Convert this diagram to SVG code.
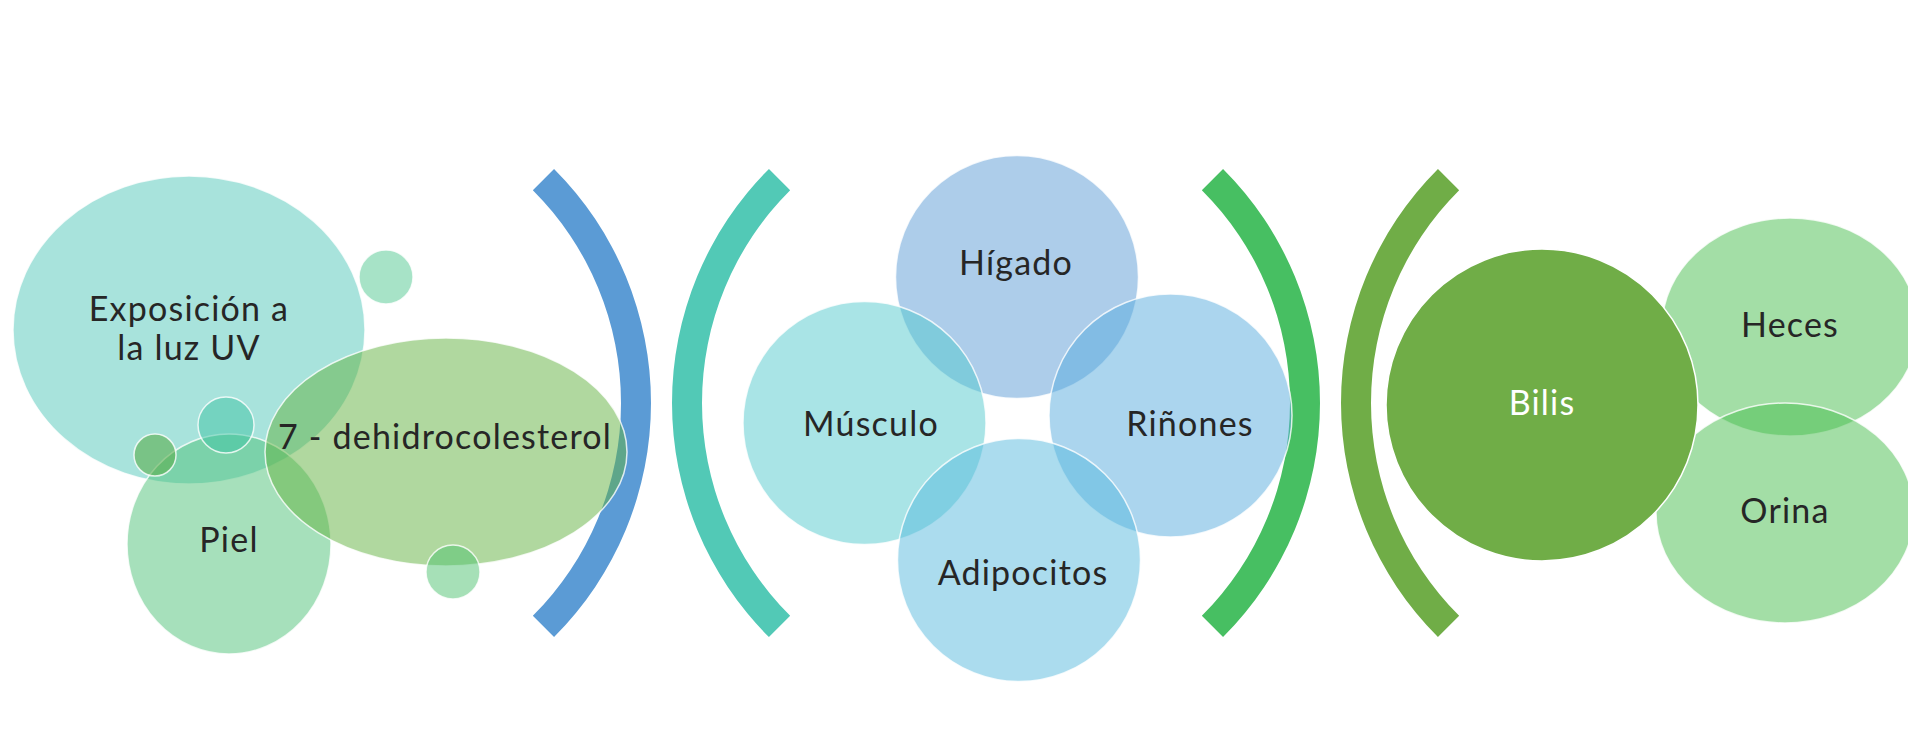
<svg xmlns="http://www.w3.org/2000/svg" width="1908" height="735" viewBox="0 0 1908 735">
<style>
.bub{stroke:#ffffff;stroke-width:1.5;stroke-opacity:0.8;fill-opacity:0.5}
.lbl{font-family:Lato,"Noto Sans","DejaVu Sans",sans-serif;font-size:34px;letter-spacing:1.2px;fill:#262626;text-anchor:middle}
.wht{fill:#ffffff}
</style>
<rect width="1908" height="735" fill="#ffffff"/>
<g id="brackets">
<path d="M 554.05 168.95 A 331 331 0 0 1 554.05 637.05 L 532.84 615.84 A 301 301 0 0 0 532.84 190.16 Z" fill="#5b9bd5"/>
<path d="M 768.95 168.95 A 331 331 0 0 0 768.95 637.05 L 790.16 615.84 A 301 301 0 0 1 790.16 190.16 Z" fill="#52c9b6"/>
<path d="M 1223.05 168.95 A 331 331 0 0 1 1223.05 637.05 L 1201.84 615.84 A 301 301 0 0 0 1201.84 190.16 Z" fill="#47bf62"/>
<path d="M 1437.95 168.95 A 331 331 0 0 0 1437.95 637.05 L 1459.16 615.84 A 301 301 0 0 1 1459.16 190.16 Z" fill="#70ad47"/>
</g>
<g id="exposicion">
<ellipse class="bub" cx="189" cy="330" rx="176" ry="154" fill="#51c7b9"/>
<text class="lbl" x="189" y="321">Exposición a</text>
<text class="lbl" x="189" y="360">la luz UV</text>
</g>
<g id="dot-top">
<circle class="bub" cx="386" cy="277" r="27" fill="#4fc78f"/>
</g>
<g id="piel">
<ellipse class="bub" cx="229" cy="544" rx="102" ry="110" fill="#4dc177"/>
<text class="lbl" x="229" y="552">Piel</text>
</g>
<g id="dot-mid">
<circle class="bub" cx="226" cy="425" r="28" fill="#3fc4a4"/>
</g>
<g id="dot-left">
<circle class="bub" cx="155" cy="455" r="21" fill="#5aad4c" style="fill-opacity:0.6"/>
</g>
<g id="dehidrocolesterol">
<ellipse class="bub" cx="446" cy="452" rx="181" ry="114" fill="#62b140"/>
<text class="lbl" x="445" y="449">7 - dehidrocolesterol</text>
</g>
<g id="dot-bottom">
<circle class="bub" cx="453" cy="572" r="27" fill="#4dc16f"/>
</g>
<g id="higado">
<circle class="bub" cx="1017" cy="277" r="121.5" fill="#5b9bd5"/>
<text class="lbl" x="1016" y="275">Hígado</text>
</g>
<g id="musculo">
<circle class="bub" cx="864.5" cy="423" r="121.5" fill="#53c9cd"/>
<text class="lbl" x="871" y="436">Músculo</text>
</g>
<g id="rinones">
<circle class="bub" cx="1170.5" cy="415.5" r="121.5" fill="#57abdd"/>
<text class="lbl" x="1190" y="436">Riñones</text>
</g>
<g id="adipocitos">
<circle class="bub" cx="1019" cy="560" r="121.5" fill="#57b9dd"/>
<text class="lbl" x="1023" y="585">Adipocitos</text>
</g>
<g id="heces">
<ellipse class="bub" cx="1790" cy="327" rx="128" ry="109" fill="#47bd4d"/>
<text class="lbl" x="1790" y="337">Heces</text>
</g>
<g id="orina">
<ellipse class="bub" cx="1785" cy="513" rx="129" ry="110" fill="#47bd4d"/>
<text class="lbl" x="1785" y="523">Orina</text>
</g>
<g id="bilis">
<circle cx="1542" cy="405" r="156" fill="#70ad47" stroke="#ffffff" stroke-width="1.5"/>
<text class="lbl wht" x="1542" y="415">Bilis</text>
</g>
</svg>
